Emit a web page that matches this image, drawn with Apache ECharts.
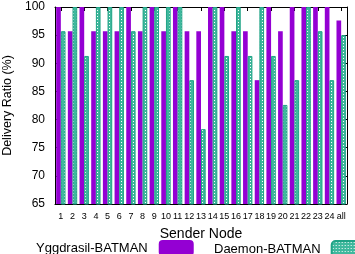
<!DOCTYPE html>
<html>
<head>
<meta charset="utf-8">
<script src="https://cdn.jsdelivr.net/npm/echarts@6/dist/echarts.min.js"></script>
<style>
  html, body { margin: 0; padding: 0; background: #fff; }
  #chart { width: 355px; height: 254px; }
</style>
</head>
<body>
<div id="chart"></div>
<script>
// Delivery ratio per sender node
const nodes = ['1', '2', '3', '4', '5', '6', '7', '8', '9', '10', '11', '12', '13',
  '14', '15', '16', '17', '18', '19', '20', '21', '22', '23', '24', 'all']
const yggdrasil = [100, 95.7, 100, 95.7, 95.7, 95.7, 100, 95.7, 100, 95.7, 100, 95.7, 95.7,
  100, 100, 95.7, 95.7, 87.0, 100, 95.7, 100, 100, 100, 100, 97.6]
const daemon = [95.7, 100, 91.3, 100, 100, 100, 95.7, 100, 100, 100, 100, 87.0, 78.3,
  100, 91.3, 100, 91.3, 100, 91.3, 82.6, 87.0, 100, 95.7, 87.0, 95.0]
const yTicks = { min: 65, max: 100, interval: 5 }

const purple = '#9400d3'
const teal = '#1fa386'
const font = 'Liberation Sans, Arial, sans-serif'

// small hatch tile for the second series
function hatch() {
  const c = document.createElement('canvas')
  c.width = 3; c.height = 3
  const g = c.getContext('2d')
  g.fillStyle = '#3fb89d'
  g.fillRect(0, 0, 3, 3)
  g.fillStyle = '#ffffff'
  g.fillRect(1, 1, 1, 1)
  return c
}

const legendText = { fontSize: 13, color: '#000', fontFamily: font, padding: [0, 6, 0, 0] }

const chart = echarts.init(document.getElementById('chart'))
chart.setOption({
  animation: false,
  textStyle: { fontFamily: font, color: '#000' },
  grid: { left: 55, right: 8, top: 7, bottom: 50, outerBoundsMode: 'none' },
  legend: [
    {
      left: 36, top: 240, align: 'right', padding: 0,
      itemWidth: 35, itemHeight: 16,
      textStyle: legendText,
      data: ['Yggdrasil-BATMAN']
    },
    {
      left: 214, top: 240, align: 'right', padding: 0,
      itemWidth: 35, itemHeight: 16,
      textStyle: legendText,
      data: ['Daemon-BATMAN']
    }
  ],
  xAxis: [
    {
      type: 'category', data: nodes,
      name: 'Sender Node', nameLocation: 'middle', nameGap: 23,
      nameTextStyle: { fontSize: 14, color: '#000' },
      axisLine: { lineStyle: { color: '#000', width: 1 } },
      axisTick: { show: false },
      axisLabel: { fontSize: 9, color: '#000', margin: 8, interval: 0 }
    },
    {
      type: 'category', data: nodes, position: 'top',
      axisLine: { lineStyle: { color: '#000', width: 1 } },
      axisTick: { show: true, inside: true, length: 4, alignWithLabel: true, lineStyle: { color: '#000' } },
      axisLabel: { show: false }
    }
  ],
  yAxis: [
    {
      type: 'value', ...yTicks,
      name: 'Delivery Ratio (%)', nameLocation: 'middle', nameGap: 35,
      nameTextStyle: { fontSize: 12.5, color: '#000' },
      axisLine: { show: true, lineStyle: { color: '#000', width: 1 } },
      axisTick: { show: true, inside: true, length: 5, lineStyle: { color: '#000' } },
      axisLabel: { fontSize: 12, color: '#000', margin: 10 },
      splitLine: { show: false }
    },
    {
      type: 'value', ...yTicks, position: 'right',
      axisLine: { show: true, lineStyle: { color: '#000', width: 1 } },
      axisTick: { show: true, inside: true, length: 5, lineStyle: { color: '#000' } },
      axisLabel: { show: false },
      splitLine: { show: false }
    }
  ],
  series: [
    {
      name: 'Yggdrasil-BATMAN', type: 'bar', data: yggdrasil,
      barGap: '0%', barCategoryGap: '20%',
      itemStyle: { color: purple }
    },
    {
      name: 'Daemon-BATMAN', type: 'bar', data: daemon,
      barGap: '0%', barCategoryGap: '20%',
      itemStyle: { color: { image: hatch(), repeat: 'repeat' }, borderColor: teal, borderWidth: 1 }
    }
  ]
})
</script>
</body>
</html>
